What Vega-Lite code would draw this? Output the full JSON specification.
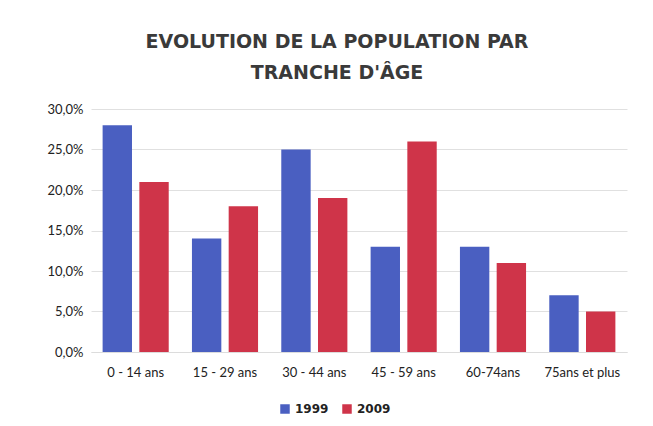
{
  "$schema": "https://vega.github.io/schema/vega-lite/v6.json",
  "width": 536,
  "height": 243,
  "autosize": {"type": "pad"},
  "padding": {"left": 47, "right": 20, "top": 33, "bottom": 10},
  "background": "white",
  "title": {
    "text": ["EVOLUTION DE LA POPULATION PAR", "TRANCHE D'ÂGE"],
    "font": "DejaVu Sans",
    "fontWeight": "bold",
    "fontSize": 19,
    "color": "#3a3a3a",
    "lineHeight": 31,
    "offset": 20,
    "anchor": "middle",
    "frame": "bounds"
  },
  "data": {
    "values": [
      {"tranche": "0 - 14 ans", "annee": "1999", "part": 0.28},
      {"tranche": "0 - 14 ans", "annee": "2009", "part": 0.21},
      {"tranche": "15 - 29 ans", "annee": "1999", "part": 0.14},
      {"tranche": "15 - 29 ans", "annee": "2009", "part": 0.18},
      {"tranche": "30 - 44 ans", "annee": "1999", "part": 0.25},
      {"tranche": "30 - 44 ans", "annee": "2009", "part": 0.19},
      {"tranche": "45 - 59 ans", "annee": "1999", "part": 0.13},
      {"tranche": "45 - 59 ans", "annee": "2009", "part": 0.26},
      {"tranche": "60-74ans", "annee": "1999", "part": 0.13},
      {"tranche": "60-74ans", "annee": "2009", "part": 0.11},
      {"tranche": "75ans et plus", "annee": "1999", "part": 0.07},
      {"tranche": "75ans et plus", "annee": "2009", "part": 0.05}
    ]
  },
  "mark": {"type": "bar"},
  "encoding": {
    "x": {
      "field": "tranche",
      "type": "nominal",
      "sort": null,
      "scale": {"paddingInner": 0.26, "paddingOuter": 0.13},
      "axis": {
        "title": null,
        "labelAngle": 0,
        "labelFont": "Lato",
        "labelFontSize": 13,
        "labelColor": "#222",
        "labelPadding": 14,
        "ticks": false,
        "domain": true,
        "domainColor": "#dcdcdc"
      }
    },
    "xOffset": {"field": "annee", "type": "nominal", "scale": {"paddingInner": 0.2}},
    "y": {
      "field": "part",
      "type": "quantitative",
      "scale": {"domain": [0, 0.3]},
      "axis": {
        "title": null,
        "values": [0, 0.05, 0.1, 0.15, 0.2, 0.25, 0.3],
        "labelExpr": "replace(format(datum.value, '.1%'), '.', ',')",
        "labelFont": "Lato",
        "labelFontSize": 13,
        "labelColor": "#222",
        "labelPadding": 8,
        "ticks": false,
        "domain": false,
        "gridColor": "#e0e0e0"
      }
    },
    "color": {
      "field": "annee",
      "type": "nominal",
      "scale": {"domain": ["1999", "2009"], "range": ["#4a5fc1", "#cf3449"]},
      "legend": {
        "title": null,
        "orient": "none",
        "legendX": 188,
        "legendY": 294,
        "direction": "horizontal",
        "symbolType": "square",
        "symbolSize": 90,
        "labelFont": "DejaVu Sans",
        "labelFontWeight": "bold",
        "labelFontSize": 12,
        "labelColor": "#222",
        "columnPadding": 12
      }
    }
  },
  "config": {
    "view": {"stroke": null}
  }
}
